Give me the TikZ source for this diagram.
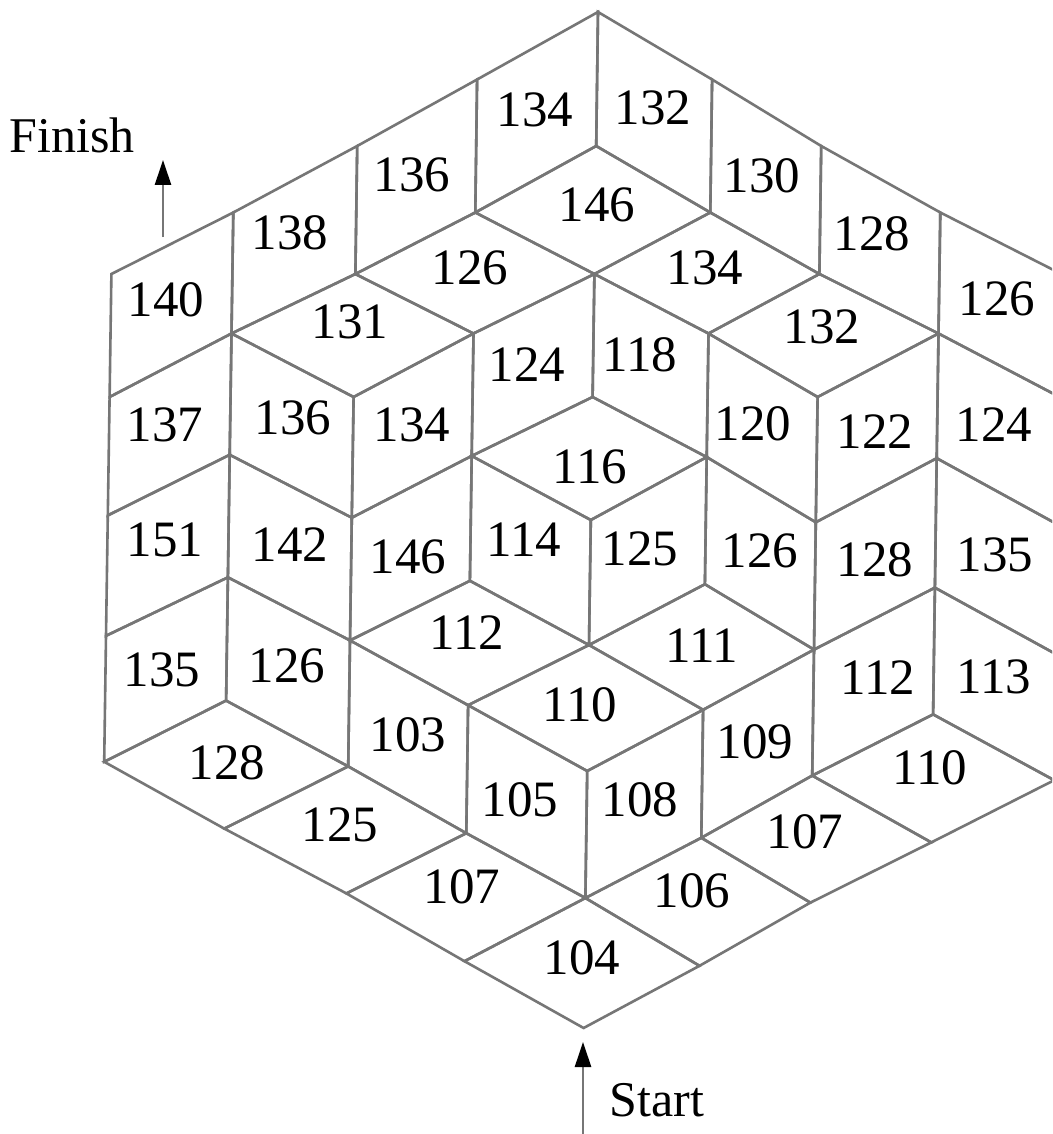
\documentclass[tikz,border=0pt]{standalone}
\usepackage{fontspec}
\setmainfont{Liberation Serif}
\usetikzlibrary{arrows.meta}
\definecolor{linegray}{RGB}{118,118,118}
\tikzset{
  edge/.style={draw=linegray, line width=2.6pt, line join=miter},
  num/.style={inner sep=0pt, font=\fontsize{51}{60}\selectfont, text=black},
  word/.style={inner sep=0pt, font=\fontsize{50}{60}\selectfont, text=black},
  flowarrow/.style={draw=linegray, line width=2.6pt, -{Triangle[length=25pt,width=16pt,color=black]}}
}
\newcommand\rhT[2]{% horizontal rhombus, top vertex (k,t)
  \pgfmathtruncatemacro\kA{#1-1}\pgfmathtruncatemacro\kB{#1+1}%
  \pgfmathtruncatemacro\tA{#2+1}\pgfmathtruncatemacro\tB{#2+2}%
  \draw[edge] (v#1-#2) -- (v\kA-\tA) -- (v#1-\tB) -- (v\kB-\tA) -- cycle;}
\newcommand\rhA[2]{% left-facing rhombus, upper-left vertex (k,t)
  \pgfmathtruncatemacro\kB{#1+1}%
  \pgfmathtruncatemacro\tA{#2-1}\pgfmathtruncatemacro\tB{#2+1}\pgfmathtruncatemacro\tC{#2+2}%
  \draw[edge] (v#1-#2) -- (v\kB-\tA) -- (v\kB-\tB) -- (v#1-\tC) -- cycle;}
\newcommand\rhB[2]{% right-facing rhombus, upper-left vertex (k,t)
  \pgfmathtruncatemacro\kB{#1+1}%
  \pgfmathtruncatemacro\tB{#2+1}\pgfmathtruncatemacro\tC{#2+2}\pgfmathtruncatemacro\tD{#2+3}%
  \draw[edge] (v#1-#2) -- (v\kB-\tB) -- (v\kB-\tD) -- (v#1-\tC) -- cycle;}
\begin{document}
\begin{tikzpicture}[x=1pt,y=-1pt]
\useasboundingbox (0,0) rectangle (1052,1134);
\clip (0,0) rectangle (1052,1134);
\fill[white] (0,0) rectangle (1052,1134);
% lattice vertices
\foreach \k in {0,...,8}{
  \foreach \t in {0,...,16}{
    \pgfmathsetmacro\xx{{115,236,359,478,598,713,823,943,1065}[\k] - 0.9*\t}
    \pgfmathsetmacro\yy{12 + 63.5*\t + {0,4,7,10,8,4,4,0,0,-1,-2,-3,-3,-2,-3,-1,0}[\t] + 2.3*min(1,max(0,(\t-6)/4))*(\k-4)}
    \coordinate (v\k-\t) at (\xx,\yy);
  }
}
% horizontal rhombi
\foreach \a/\b in {4/2,3/3,5/3,2/4,6/4,4/6,3/9,5/9,4/10,1/11,7/11,2/12,6/12,3/13,5/13,4/14}{\rhT{\a}{\b}}
% left-facing rhombi
\foreach \a/\b in {3/1,2/2,1/3,0/4,3/5,0/6,2/6,6/6,0/8,2/8,4/8,6/8,0/10,6/10,5/11,4/12}{\rhA{\a}{\b}}
% right-facing rhombi
\foreach \a/\b in {4/0,5/1,6/2,7/3,4/4,1/5,5/5,7/5,1/7,3/7,5/7,7/7,1/9,7/9,2/10,3/11}{\rhB{\a}{\b}}
% labels
\node[num] (n1) at (535,110) {134};
\node[num] (n2) at (653,108) {132};
\node[num] (n3) at (412,175) {136};
\node[num] (n4) at (762,176) {130};
\node[num] (n5) at (597,205) {146};
\node[num] (n6) at (290,233) {138};
\node[num] (n7) at (872,234) {128};
\node[num] (n8) at (470,268) {126};
\node[num] (n9) at (705,268) {134};
\node[num] (n10) at (166,300) {140};
\node[num] (n11) at (350,322) {131};
\node[num] (n12) at (822,327) {132};
\node[num] (n13) at (997,299) {126};
\node[num] (n14) at (527,365) {124};
\node[num] (n15) at (640,355) {118};
\node[num] (n16) at (165,425) {137};
\node[num] (n17) at (293,418) {136};
\node[num] (n18) at (412,425) {134};
\node[num] (n19) at (753,424) {120};
\node[num] (n20) at (875,432) {122};
\node[num] (n21) at (994,425) {124};
\node[num] (n22) at (590,467) {116};
\node[num] (n23) at (165,540) {151};
\node[num] (n24) at (290,545) {142};
\node[num] (n25) at (408,557) {146};
\node[num] (n26) at (524,540) {114};
\node[num] (n27) at (640,549) {125};
\node[num] (n28) at (760,551) {126};
\node[num] (n29) at (875,560) {128};
\node[num] (n30) at (995,555) {135};
\node[num] (n31) at (467,633) {112};
\node[num] (n32) at (702,646) {111};
\node[num] (n33) at (162,670) {135};
\node[num] (n34) at (287,666) {126};
\node[num] (n35) at (878,678) {112};
\node[num] (n36) at (994,677) {113};
\node[num] (n37) at (580,705) {110};
\node[num] (n38) at (408,735) {103};
\node[num] (n39) at (755,742) {109};
\node[num] (n40) at (227,763) {128};
\node[num] (n41) at (930,768) {110};
\node[num] (n42) at (520,800) {105};
\node[num] (n43) at (640,800) {108};
\node[num] (n44) at (340,825) {125};
\node[num] (n45) at (805,832) {107};
\node[num] (n46) at (462,887) {107};
\node[num] (n47) at (692,891) {106};
\node[num] (n48) at (582,958) {104};
% start / finish
\node[word] (finish) at (72,135) {Finish};
\node[word] (start) at (657,1100) {Start};
\coordinate (finTail) at (163,237);
\coordinate (finHead) at (163,160);
\coordinate (startTail) at (583,1140);
\coordinate (startHead) at (583,1042);
\draw[flowarrow] (finTail) -- (finHead);
\draw[flowarrow] (startTail) -- (startHead);
\end{tikzpicture}
\end{document}
